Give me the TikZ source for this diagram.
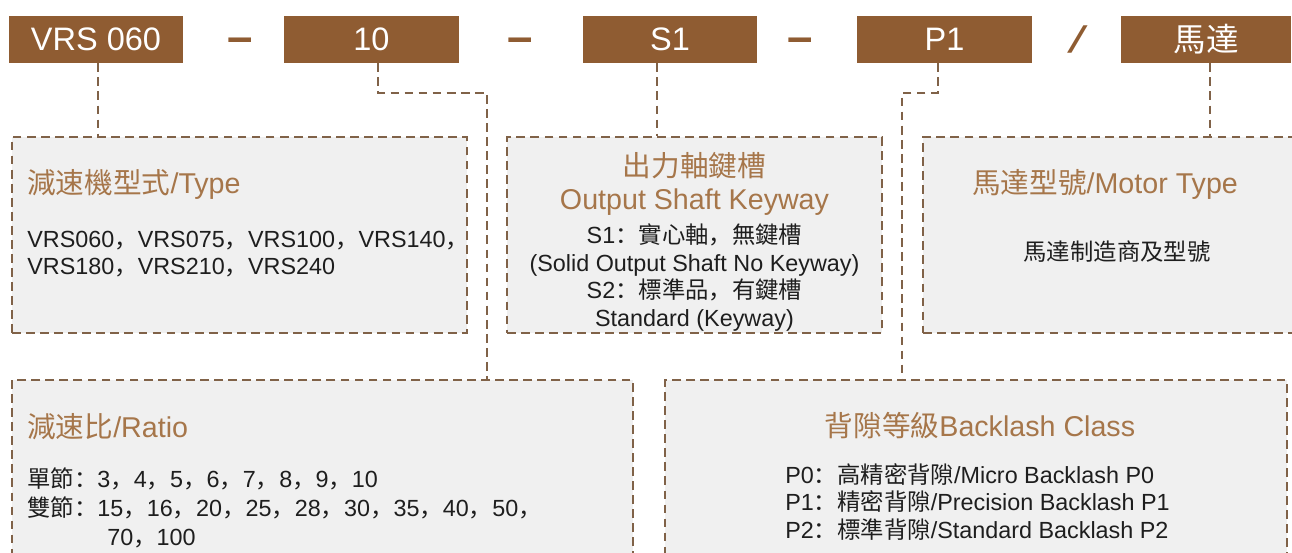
\documentclass[tikz,border=0pt]{standalone}
\usepackage{fontspec}
\setmainfont{Liberation Sans}
\newfontfamily\cjk{Noto Sans CJK SC}
\newfontfamily\slantfont{Liberation Sans Bold}[FakeSlant=0.4]
\usetikzlibrary{positioning, calc}

\definecolor{codebrown}{RGB}{143,92,50}
\definecolor{titlebrown}{RGB}{166,118,74}
\definecolor{linebrown}{RGB}{128,98,72}
\definecolor{panelgray}{RGB}{240,240,240}
\definecolor{bodytext}{RGB}{30,30,30}

\newcommand{\zh}[1]{{\cjk #1}}

\begin{document}
\begin{tikzpicture}[x=0.02cm, y=-0.02cm,
    code/.style={rectangle, fill=codebrown, text=white, minimum height=0.94cm,
                 inner sep=0pt, font=\fontsize{18.5}{20}\selectfont},
    panel/.style={rectangle, draw=linebrown, fill=panelgray, line width=1.1pt,
                  dash pattern=on 5pt off 3pt, inner sep=0pt},
    link/.style={draw=linebrown, line width=1.1pt, dash pattern=on 5pt off 3pt},
    sep/.style={text=codebrown, inner sep=0pt, font=\fontsize{26}{26}\bfseries},
    head/.style={text=titlebrown, inner sep=0pt, font=\fontsize{16.3}{18.7}\selectfont},
    body/.style={text=bodytext, inner sep=0pt, font=\fontsize{13.3}{15.7}\selectfont}
  ]
    \path[use as bounding box, clip] (0,0) rectangle (1292,553);

    % Code row
    \node[code, minimum width=3.48cm] (bvrs) at (96,39.5) {VRS 060};
    \node[code, minimum width=3.5cm] (b10) at (371.5,39.5) {10};
    \node[code, minimum width=3.48cm] (bs1) at (670,39.5) {S1};
    \node[code, minimum width=3.5cm] (bp1) at (944.5,39.5) {P1};
    \node[code, minimum width=3.4cm] (bmotor) at (1206,39.5) {\zh{馬達}};

    % Separators
    \node[sep] (d1) at (240,45) {–};
    \node[sep] (d2) at (520,45) {–};
    \node[sep] (d3) at (800,45) {–};
    \node[sep, font=\fontsize{21}{22}\slantfont] (d4) at (1073,40) {/};

    % Panels
    \node[panel, minimum width=9.1cm, minimum height=3.92cm] (typebox) at (239.5,235) {};
    \node[panel, minimum width=7.5cm, minimum height=3.92cm] (keybox) at (694.5,235) {};
    \node[panel, minimum width=7.54cm, minimum height=3.92cm] (motorbox) at (1111.5,235) {};
    \node[panel, minimum width=12.42cm, minimum height=4.4cm] (ratiobox) at (322.5,490) {};
    \node[panel, minimum width=12.44cm, minimum height=4.4cm] (backbox) at (976,490) {};

    % Panel texts
    \node[head, anchor=west] (ttype) at (27,184) {\zh{減速機型式}/Type};
    \node[body, anchor=west, align=left] (ltype) at (27,254)
      {VRS060\zh{，}VRS075\zh{，}VRS100\zh{，}VRS140\zh{，}\\VRS180\zh{，}VRS210\zh{，}VRS240};

    \node[head, align=center] (tkey) at (694.5,183.5) {\zh{出力軸鍵槽}\\Output Shaft Keyway};
    \node[body, align=center] (lkey) at (694.5,277.5)
      {S1\zh{：實心軸，無鍵槽}\\(Solid Output Shaft No Keyway)\\S2\zh{：標準品，有鍵槽}\\Standard (Keyway)};

    \node[head] (tmotor) at (1105,184) {\zh{馬達型號}/Motor Type};
    \node[body] (lmotor) at (1117,252) {\zh{馬達制造商及型號}};

    \node[head, anchor=west] (tratio) at (27,427) {\zh{減速比}/Ratio};
    \node[body, anchor=west, align=left, font=\fontsize{13.3}{16.6}\selectfont] (lratio) at (27,508)
      {\zh{單節：}3\zh{，}4\zh{，}5\zh{，}6\zh{，}7\zh{，}8\zh{，}9\zh{，}10\\
       \zh{雙節：}15\zh{，}16\zh{，}20\zh{，}25\zh{，}28\zh{，}30\zh{，}35\zh{，}40\zh{，}50\zh{，}\\
       \hspace*{1.6cm}70\zh{，}100};

    \node[head] (tback) at (980,426) {\zh{背隙等級}Backlash Class};
    \node[body, anchor=west, align=left] (lback) at (785,502)
      {P0\zh{：高精密背隙}/Micro Backlash P0\\P1\zh{：精密背隙}/Precision Backlash P1\\P2\zh{：標準背隙}/Standard Backlash P2};

    % Connectors
    \coordinate (k10) at (487,93);
    \coordinate (kp1) at (902,93);
    \draw[link] ($(bvrs.south)+(2,0)$) coordinate (fvrs) -- (fvrs |- typebox.north);
    \draw[link] ($(b10.south)+(6.5,0)$) |- (k10) -- (k10 |- ratiobox.north);
    \draw[link] ($(bs1.south)+(-13,0)$) coordinate (fs1) -- (fs1 |- keybox.north);
    \draw[link] ($(bp1.south)+(-6.5,0)$) |- (kp1) -- (kp1 |- backbox.north);
    \draw[link] ($(bmotor.south)+(4,0)$) coordinate (fmotor) -- (fmotor |- motorbox.north);
\end{tikzpicture}
\end{document}
